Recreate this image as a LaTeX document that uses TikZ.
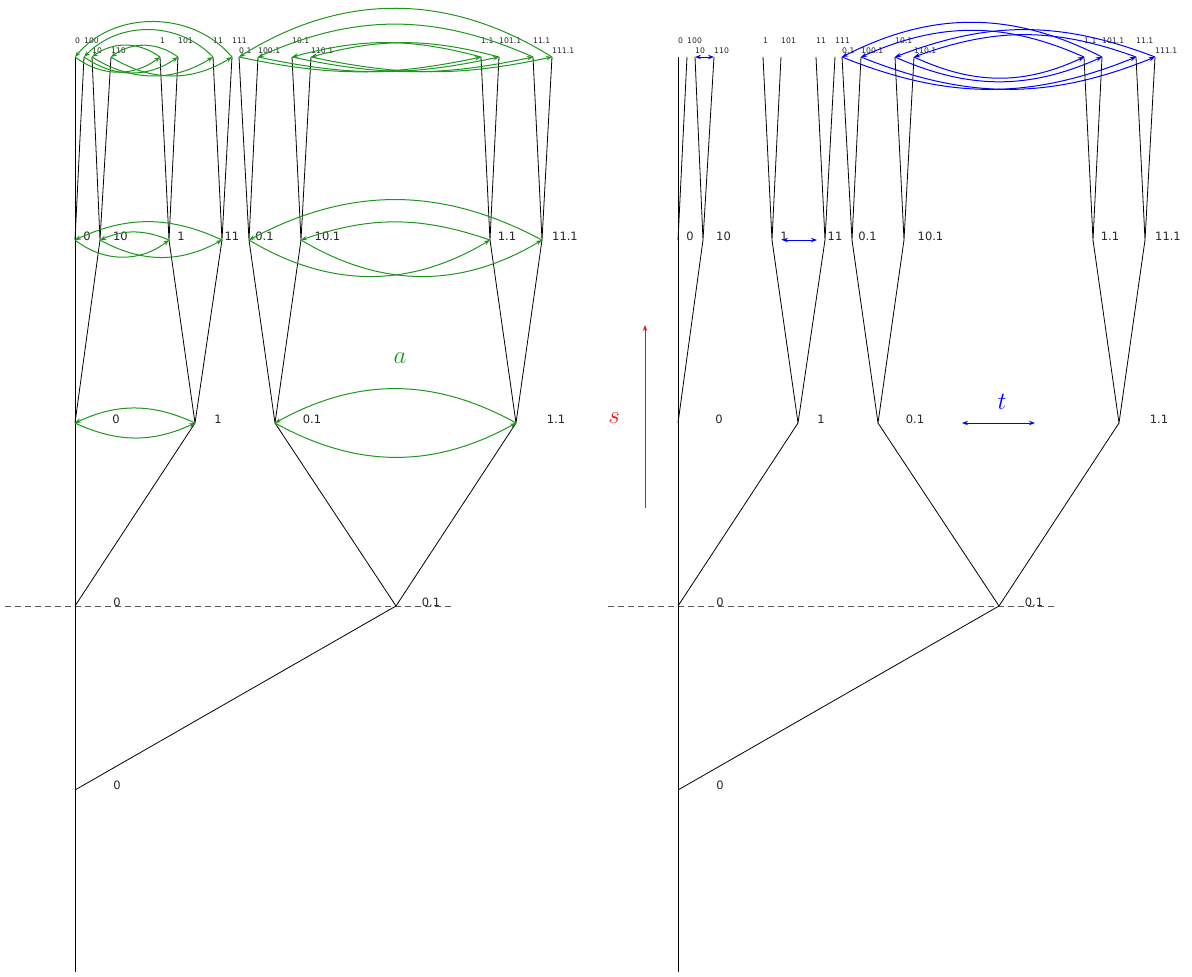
\documentclass[tikz,border=0pt]{standalone}
\usepackage{fontspec}
\setmainfont{DejaVu Sans}
\usetikzlibrary{arrows.meta}
\definecolor{gr}{RGB}{30,150,30}
\definecolor{bl}{RGB}{0,0,255}
\definecolor{rd}{RGB}{235,20,20}
\tikzset{
 edge/.style={draw=black, line width=0.8pt, line join=round},
 lab/.style={inner sep=0pt, text=black!85, font=\fontsize{11.5}{13}\selectfont},
 tlab/.style={inner sep=0pt, anchor=west, text=black!85, font=\fontsize{7.7}{9}\selectfont},
 garr/.style={draw=gr, line width=1pt, -{Stealth[length=6pt,width=4.5pt]}},
 barr/.style={draw=bl, line width=1pt, -{Stealth[length=6pt,width=4.5pt]}},
 bdbl/.style={draw=bl, line width=1pt, {Stealth[length=6pt,width=4.5pt]}-{Stealth[length=6pt,width=4.5pt]}},
 hline/.style={draw=black!65, line width=0.8pt, dash pattern=on 6pt off 4pt},
 sym/.style={inner sep=0pt, font=\fontsize{24}{26}\selectfont}
}
\newcommand{\maketree}[2]{%
\coordinate (#1bot) at (#2,972);
\coordinate (#1z0) at (#2,790);
\coordinate (#1a0) at (#2,606);
\coordinate (#1a0p1) at ({#2+321},606);
\coordinate (#1b0) at (#2,423);
\coordinate (#1b1) at ({#2+120},423);
\coordinate (#1b0p1) at ({#2+200},423);
\coordinate (#1b1p1) at ({#2+441},423);
\coordinate (#1c0) at (#2,240);
\coordinate (#1c10) at ({#2+25},240);
\coordinate (#1c1) at ({#2+94},240);
\coordinate (#1c11) at ({#2+147},240);
\coordinate (#1c0p1) at ({#2+174},240);
\coordinate (#1c10p1) at ({#2+226},240);
\coordinate (#1c1p1) at ({#2+415},240);
\coordinate (#1c11p1) at ({#2+467},240);
\coordinate (#1d0) at (#2,57);
\coordinate (#1d100) at ({#2+9},57);
\coordinate (#1d10) at ({#2+17},57);
\coordinate (#1d110) at ({#2+36},57);
\coordinate (#1d1) at ({#2+85},57);
\coordinate (#1d101) at ({#2+103},57);
\coordinate (#1d11) at ({#2+138},57);
\coordinate (#1d111) at ({#2+157},57);
\coordinate (#1d0p1) at ({#2+164},57);
\coordinate (#1d100p1) at ({#2+183},57);
\coordinate (#1d10p1) at ({#2+217},57);
\coordinate (#1d110p1) at ({#2+236},57);
\coordinate (#1d1p1) at ({#2+406},57);
\coordinate (#1d101p1) at ({#2+424},57);
\coordinate (#1d11p1) at ({#2+458},57);
\coordinate (#1d111p1) at ({#2+477},57);
\draw[edge] (#1bot) -- (#1d0);
\draw[edge] (#1z0) -- (#1a0p1);
\draw[edge] (#1a0) -- (#1b1);
\draw[edge] (#1b0p1) -- (#1a0p1) -- (#1b1p1);
\draw[edge] (#1b0) -- (#1c10);
\draw[edge] (#1c1) -- (#1b1) -- (#1c11);
\draw[edge] (#1c0p1) -- (#1b0p1) -- (#1c10p1);
\draw[edge] (#1c1p1) -- (#1b1p1) -- (#1c11p1);
\draw[edge] (#1c0) -- (#1d100);
\draw[edge] (#1d10) -- (#1c10) -- (#1d110);
\draw[edge] (#1d1) -- (#1c1) -- (#1d101);
\draw[edge] (#1d11) -- (#1c11) -- (#1d111);
\draw[edge] (#1d0p1) -- (#1c0p1) -- (#1d100p1);
\draw[edge] (#1d10p1) -- (#1c10p1) -- (#1d110p1);
\draw[edge] (#1d1p1) -- (#1c1p1) -- (#1d101p1);
\draw[edge] (#1d11p1) -- (#1c11p1) -- (#1d111p1);
\node[lab] (#1lz0) at ({#2+42},785) {0};
\node[lab] (#1la0) at ({#2+42},602.5) {0};
\node[lab] (#1la0p1) at ({#2+356},602.5) {0.1};
\node[lab] (#1lb0) at ({#2+41},419) {0};
\node[lab] (#1lb1) at ({#2+143},419) {1};
\node[lab] (#1lb0p1) at ({#2+237},419) {0.1};
\node[lab] (#1lb1p1) at ({#2+481},419) {1.1};
\node[lab] (#1lc0) at ({#2+12},236) {0};
\node[lab] (#1lc10) at ({#2+45.5},236) {10};
\node[lab] (#1lc1) at ({#2+106},236) {1};
\node[lab] (#1lc11) at ({#2+157},236) {11};
\node[lab] (#1lc0p1) at ({#2+189.5},236) {0.1};
\node[lab] (#1lc10p1) at ({#2+252.5},236) {10.1};
\node[lab] (#1lc1p1) at ({#2+432},236) {1.1};
\node[lab] (#1lc11p1) at ({#2+490},236) {11.1};
\node[tlab] (#1ld0) at ({#2+0},41) {0};
\node[tlab] (#1ld100) at ({#2+9},41) {100};
\node[tlab] (#1ld10) at ({#2+17},51) {10};
\node[tlab] (#1ld110) at ({#2+36},51) {110};
\node[tlab] (#1ld1) at ({#2+85},41) {1};
\node[tlab] (#1ld101) at ({#2+103},41) {101};
\node[tlab] (#1ld11) at ({#2+138},41) {11};
\node[tlab] (#1ld111) at ({#2+157},41) {111};
\node[tlab] (#1ld0p1) at ({#2+164},51) {0.1};
\node[tlab] (#1ld100p1) at ({#2+183},51) {100.1};
\node[tlab] (#1ld10p1) at ({#2+217},41) {10.1};
\node[tlab] (#1ld110p1) at ({#2+236},51) {110.1};
\node[tlab] (#1ld1p1) at ({#2+406},41) {1.1};
\node[tlab] (#1ld101p1) at ({#2+424},41) {101.1};
\node[tlab] (#1ld11p1) at ({#2+458},41) {11.1};
\node[tlab] (#1ld111p1) at ({#2+477},51) {111.1};
}
\begin{document}
\begin{tikzpicture}[x=1pt,y=-1pt]
\useasboundingbox (0,0) rectangle (1192,977);
% dashed horizontal lines
\coordinate (hl1) at (5,606); \coordinate (hl2) at (452,606);
\coordinate (hr1) at (608,606); \coordinate (hr2) at (1055,606);
\draw[hline] (hl1) -- (hl2);
\draw[hline] (hr1) -- (hr2);
\maketree{L}{75}
\maketree{R}{678}
% ---- green action a (left tree)
\draw[garr] (Lb0) to[bend right=25] (Lb1);
\draw[garr] (Lb1) to[bend right=25] (Lb0);
\draw[garr] (Lb0p1) to[bend right=29] (Lb1p1);
\draw[garr] (Lb1p1) to[bend right=29] (Lb0p1);
\draw[garr] (Lc0) to[bend right=38] (Lc1);
\draw[garr] (Lc1) to[bend right=23] (Lc10);
\draw[garr] (Lc10) to[bend right=29] (Lc11);
\draw[garr] (Lc11) to[bend right=25] (Lc0);
\draw[garr] (Lc0p1) to[bend right=31] (Lc1p1);
\draw[garr] (Lc1p1) to[bend right=19] (Lc10p1);
\draw[garr] (Lc10p1) to[bend right=31] (Lc11p1);
\draw[garr] (Lc11p1) to[bend right=28] (Lc0p1);
\draw[garr] (Ld0) to[bend right=37] (Ld1);
\draw[garr] (Ld1) to[bend right=36] (Ld10);
\draw[garr] (Ld10) to[bend right=32] (Ld11);
\draw[garr] (Ld11) to[bend right=46] (Ld100);
\draw[garr] (Ld100) to[bend right=35] (Ld101);
\draw[garr] (Ld101) to[bend right=36] (Ld110);
\draw[garr] (Ld110) to[bend right=32] (Ld111);
\draw[garr] (Ld111) to[bend right=50] (Ld0);
\draw[garr] (Ld0p1) to[bend right=12] (Ld1p1);
\draw[garr] (Ld1p1) to[bend right=15] (Ld10p1);
\draw[garr] (Ld10p1) to[bend right=12] (Ld11p1);
\draw[garr] (Ld11p1) to[bend right=24] (Ld100p1);
\draw[garr] (Ld100p1) to[bend right=12] (Ld101p1);
\draw[garr] (Ld101p1) to[bend right=15] (Ld110p1);
\draw[garr] (Ld110p1) to[bend right=12] (Ld111p1);
\draw[garr] (Ld111p1) to[bend right=32] (Ld0p1);
\node[sym, text=gr] (alab) at (400,358) {$a$};
% ---- blue action t (right tree)
\draw[bdbl, shorten <=10pt, shorten >=8pt] (Rc1) -- (Rc11);
\draw[bdbl] (Rd10) -- (Rd110);
\draw[barr] (Rd101p1) to[bend right=27] (Rd0p1);
\draw[barr] (Rd1p1) to[bend right=24] (Rd100p1);
\draw[barr] (Rd111p1) to[bend right=21] (Rd10p1);
\draw[barr] (Rd11p1) to[bend right=20] (Rd110p1);
\draw[barr] (Rd0p1) to[bend right=22] (Rd11p1);
\draw[barr] (Rd100p1) to[bend right=22] (Rd111p1);
\draw[barr] (Rd10p1) to[bend right=24] (Rd101p1);
\draw[barr] (Rd110p1) to[bend right=25] (Rd1p1);
% ---- legend arrows
\coordinate (sb) at (645,508); \coordinate (st) at (645,325);
\draw[draw=rd, line width=1pt, -{Stealth[length=6pt,width=4.5pt]}] (sb) -- (st);
\node[sym, text=rd] (slab) at (614,418) {$s$};
\coordinate (tl) at (962,423); \coordinate (tr) at (1035,423);
\draw[bdbl] (tl) -- (tr);
\node[sym, text=bl] (tlab) at (1002,402) {$t$};
\end{tikzpicture}
\end{document}
